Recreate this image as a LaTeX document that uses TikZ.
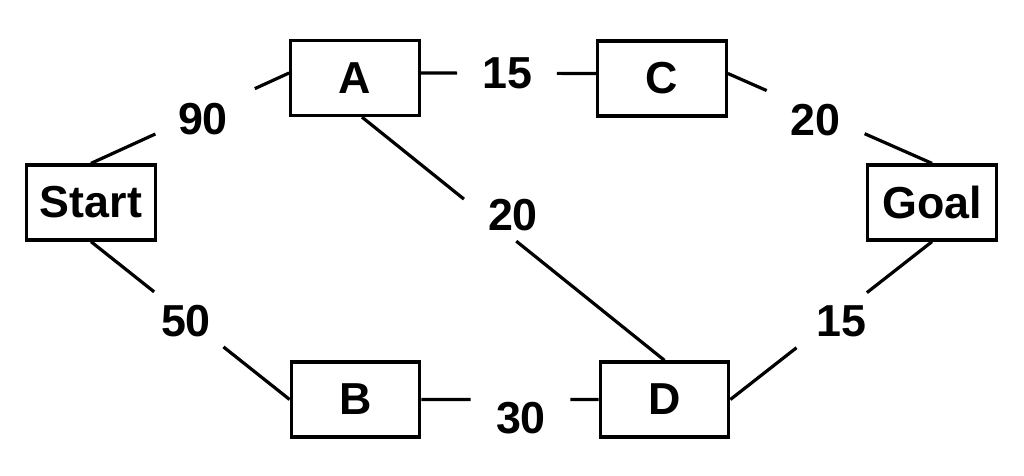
\documentclass[tikz,border=0pt]{standalone}
\usepackage{fontspec}
\setmainfont{Liberation Sans}
\usetikzlibrary{calc}
\begin{document}
\begin{tikzpicture}[x=0.02cm,y=-0.02cm,
  txt/.style={font=\fontsize{25.5pt}{30pt}\selectfont\bfseries},
  box/.style={txt, draw, line width=0.066cm, minimum width=2.57cm, minimum height=1.5cm, inner sep=0pt},
  wlabel/.style={txt, inner sep=0pt},
  conn/.style={line width=0.064cm}]
\useasboundingbox (0,0) rectangle (1024,476);
% nodes
\node[box] (S) at (91,202.5) {Start};
\node[box] (A) at (355,78) {A};
\node[box] (C) at (662,78.5) {C};
\node[box] (G) at (932,202.5) {Goal};
\node[box] (B) at (355.5,399.5) {B};
\node[box] (D) at (664.5,399.5) {D};
% anchor points
\coordinate (Aw) at ([yshift=0.1cm]A.west);
\coordinate (Ae) at ([yshift=0.1cm]A.east);
\coordinate (Cw) at ([yshift=0.1cm]C.west);
\coordinate (Ce) at ([yshift=0.1cm]C.east);
\coordinate (As) at ([xshift=0.14cm]A.south);
% Start - A
\coordinate (sa1) at ($(S.north)!0.325!(Aw)$);
\coordinate (sa2) at ($(S.north)!0.827!(Aw)$);
\draw[conn] (S.north) -- (sa1);
\draw[conn] (sa2) -- (Aw);
\node[wlabel] (l90) at (203,119) {90};
% A - C
\coordinate (ac1) at ($(Ae)!0.207!(Cw)$);
\coordinate (ac2) at ($(Ae)!0.776!(Cw)$);
\draw[conn] (Ae) -- (ac1);
\draw[conn] (ac2) -- (Cw);
\node[wlabel] (l15a) at (507,73) {15};
% C - Goal
\coordinate (cg1) at ($(Ce)!0.19!(G.north)$);
\coordinate (cg2) at ($(Ce)!0.67!(G.north)$);
\draw[conn] (Ce) -- (cg1);
\draw[conn] (cg2) -- (G.north);
\node[wlabel] (l20a) at (815,120) {20};
% A - D
\coordinate (ad1) at ($(As)!0.337!(D.north)$);
\coordinate (ad2) at ($(As)!0.51!(D.north)$);
\draw[conn] (As) -- (ad1);
\draw[conn] (ad2) -- (D.north);
\node[wlabel] (l20b) at (513,215) {20};
% Start - B
\coordinate (sb1) at ($(S.south)!0.318!(B.west)$);
\coordinate (sb2) at ($(S.south)!0.667!(B.west)$);
\draw[conn] (S.south) -- (sb1);
\draw[conn] (sb2) -- (B.west);
\node[wlabel] (l50) at (186,321) {50};
% B - D
\coordinate (bd1) at ($(B.east)!0.278!(D.west)$);
\coordinate (bd2) at ($(B.east)!0.841!(D.west)$);
\draw[conn] (B.east) -- (bd1);
\draw[conn] (bd2) -- (D.west);
\node[wlabel] (l30) at (521,418) {30};
% D - Goal
\coordinate (dg1) at ($(D.east)!0.328!(G.south)$);
\coordinate (dg2) at ($(D.east)!0.677!(G.south)$);
\draw[conn] (D.east) -- (dg1);
\draw[conn] (dg2) -- (G.south);
\node[wlabel] (l15b) at (841,321) {15};
\end{tikzpicture}
\end{document}
